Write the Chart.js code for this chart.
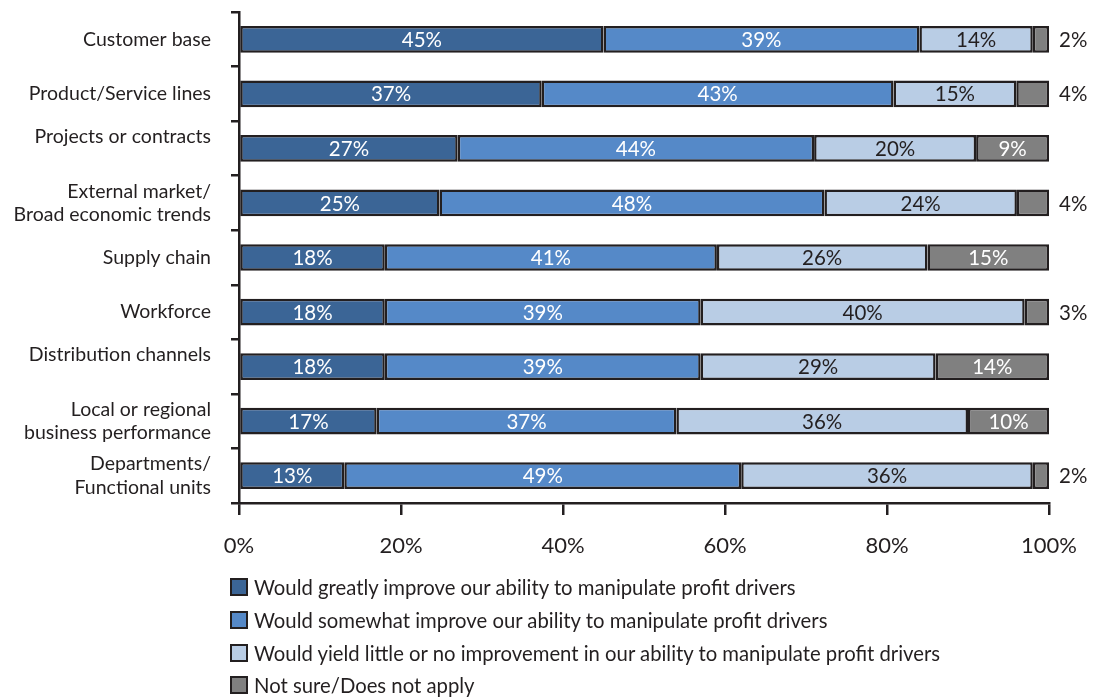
<!DOCTYPE html>
<html>
<head>
<meta charset="utf-8">
<script src="https://cdn.jsdelivr.net/npm/chart.js@4.4.1/dist/chart.umd.min.js"></script>
<style>
  body { margin: 0; background: #fff; font-family: Lato, sans-serif; }
  #wrap { position: relative; width: 1101px; height: 698px; }
  #legend { position: absolute; left: 230px; top: 571px; color: #231f20; font-size: 20.3px; }
  .row { display: flex; align-items: center; height: 32.7px; }
  .box { width: 14px; height: 14px; border: 2px solid #231f20; margin-right: 6px; flex: none; }
</style>
</head>
<body>
<div id="wrap">
  <canvas id="chart"></canvas>
  <div id="legend"></div>
</div>
<script>
const categories = [
  "Customer base",
  "Product/Service lines",
  ["Projects or contracts", ""],
  ["External market/", "Broad economic trends"],
  "Supply chain",
  "Workforce",
  ["Distribution channels", ""],
  ["Local or regional", "business performance"],
  ["Departments/", "Functional units"]
];
const seriesNames = [
  "Would greatly improve our ability to manipulate profit drivers",
  "Would somewhat improve our ability to manipulate profit drivers",
  "Would yield little or no improvement in our ability to manipulate profit drivers",
  "Not sure/Does not apply"
];
const greatly  = [45, 37, 27, 25, 18, 18, 18, 17, 13];
const somewhat = [39, 43, 44, 48, 41, 39, 39, 37, 49];
const little   = [14, 15, 20, 24, 26, 40, 29, 36, 36];
const notSure  = [2, 4, 9, 4, 15, 3, 14, 10, 2];
const xTicks = [0, 20, 40, 60, 80, 100];

const colors = ["#3b6596", "#5589c8", "#b9cde5", "#808080"];
const labelColors = ["#ffffff", "#ffffff", "#231f20", "#ffffff"];
const ink = "#231f20";

// survey percentages are rounded, so each bar is scaled to fill 100%
const raw = [greatly, somewhat, little, notSure];
const totals = categories.map((_, i) => raw.reduce((s, arr) => s + arr[i], 0));
const datasets = raw.map((arr, k) => ({
  label: seriesNames[k],
  data: arr.map((v, i) => v / totals[i] * 100),
  pct: arr,
  backgroundColor: colors[k],
  borderColor: ink,
  borderWidth: 2.5,
  borderSkipped: false,
  barPercentage: 0.49,
  categoryPercentage: 1
}));

const valueLabels = {
  id: "valueLabels",
  afterDatasetsDraw(chart) {
    const ctx = chart.ctx;
    ctx.save();
    ctx.font = "20.5px Lato";
    ctx.textBaseline = "middle";
    chart.data.datasets.forEach((ds, k) => {
      chart.getDatasetMeta(k).data.forEach((el, i) => {
        const v = ds.pct[i];
        const txt = v + "%";
        if (v < 5) {
          ctx.fillStyle = ink;
          ctx.textAlign = "left";
          ctx.fillText(txt, el.x + 10, el.y + 1);
        } else {
          ctx.fillStyle = labelColors[k];
          ctx.textAlign = "center";
          ctx.fillText(txt, (el.x + el.base) / 2, el.y + 1);
        }
      });
    });
    ctx.restore();
  }
};

Chart.defaults.font.family = "Lato";
Chart.defaults.font.size = 19.5;
Chart.defaults.color = ink;

new Chart(document.getElementById("chart"), {
  type: "bar",
  data: { labels: categories, datasets: datasets },
  options: {
    indexAxis: "y",
    responsive: true,
    maintainAspectRatio: false,
    animation: false,
    layout: { padding: { top: 12, right: 52, bottom: 135, left: 0 } },
    plugins: { legend: { display: false }, tooltip: { enabled: false } },
    scales: {
      x: {
        stacked: true,
        min: 0,
        max: 100,
        afterFit: s => { s.height = 60; },
        afterBuildTicks: s => { s.ticks = xTicks.map(v => ({ value: v })); },
        ticks: { padding: 18, font: { size: 22 }, callback: v => v + "%" },
        grid: { drawOnChartArea: false, drawTicks: true, tickLength: 12, color: ink, lineWidth: 2.5 },
        border: { display: true, color: ink, width: 2.5 }
      },
      y: {
        stacked: true,
        afterFit: s => { s.width = 239; s.paddingTop = 0; s.paddingBottom = 0; },
        ticks: { padding: 20 },
        grid: { drawOnChartArea: false, drawTicks: true, tickLength: 8, color: ink, lineWidth: 2.5, offset: true },
        border: { display: true, color: ink, width: 2.5 }
      }
    }
  },
  plugins: [valueLabels]
});

const legend = document.getElementById("legend");
seriesNames.forEach((name, k) => {
  const row = document.createElement("div");
  row.className = "row";
  const box = document.createElement("span");
  box.className = "box";
  box.style.background = colors[k];
  row.appendChild(box);
  row.appendChild(document.createTextNode(name));
  legend.appendChild(row);
});
</script>
</body>
</html>
